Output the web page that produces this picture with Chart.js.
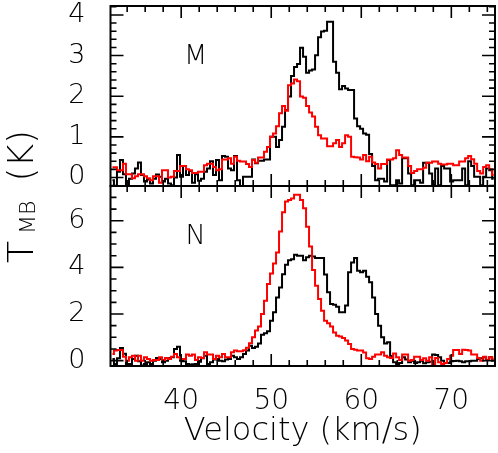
<!DOCTYPE html>
<html>
<head>
<meta charset="utf-8">
<script src="https://cdn.jsdelivr.net/npm/chart.js@4.4.1/dist/chart.umd.min.js"></script>
<style>
  html, body { margin: 0; padding: 0; background: #fff; }
  #wrap { width: 498px; height: 453px; }
</style>
</head>
<body>
<div id="wrap"><canvas id="myChart" width="498" height="453"></canvas></div>
<script>
// channel grid (km/s)
const V0 = 32.2;
const DV = 1 / 3;
const X_MIN = 32.15;
const X_MAX = 74.85;
const X_TICKS = [40, 50, 60, 70];
const M_TICKS = [0, 1, 2, 3, 4];
const N_TICKS = [0, 2, 4, 6];

// panel M
const M_BLACK = [
  -0.07, -0.3, 0.14, 0.43, 0.08, -0.3, -0.03, 0.1, 0.22, 0.37,
  0.06, -0.1, -0.05, -0.15, -0.03, 0.07, 0.02, -0.1, -0.03, -0.15,
  -0.19, 0.0, 0.55, 0.02, 0.28, 0.06, 0.16, -0.13, 0.08, -0.08,
  -0.03, 0.14, 0.22, 0.4, 0.06, 0.43, -0.07, 0.53, 0.51, 0.22,
  0.18, 0.53, -0.07, -0.3, 0.02, 0.02, 0.02, 0.44, 0.35, 0.41,
  0.41, 0.44, 0.44, 1.0, 1.0, 0.75, 0.92, 1.25, 1.66, 1.99,
  2.5, 2.72, 2.79, 3.19, 2.97, 2.58, 2.63, 2.66, 3.01, 3.45,
  3.59, 3.61, 3.83, 3.83, 2.85, 2.58, 2.17, 2.25, 2.19, 2.15,
  2.15, 1.45, 1.26, 1.2, 1.08, 1.05, 0.58, 0.28, -0.07, -0.03,
  -0.03, -0.1, 0.43, -0.19, -0.19, -0.07, -0.15, 0.47, 0.47, 0.1,
  -0.19, -0.07, -0.07, -0.13, 0.36, 0.36, 0.1, -0.19, 0.22, -0.19,
  0.28, 0.22, 0.22, -0.1, -0.07, -0.07, -0.07, 0.22, -0.19, 0.4,
  0.28, 0.02, 0.02, -0.19, 0.02, 0.22, 0.18, -0.03
];
const M_RED = [
  0.25, 0.25, 0.18, 0.18, 0.34, 0.08, 0.08, -0.02, 0.03, 0.08,
  0.08, 0.03, -0.02, -0.07, 0.03, 0.03, -0.13, 0.18, 0.18, 0.0,
  0.02, 0.16, 0.16, 0.28, 0.28, 0.2, 0.18, 0.11, 0.11, 0.14,
  0.14, 0.3, 0.34, 0.34, 0.26, 0.18, 0.2, 0.44, 0.44, 0.47,
  0.34, 0.51, 0.41, 0.39, 0.39, 0.33, 0.26, 0.43, 0.36, 0.49,
  0.49, 0.63, 0.75, 1.0, 1.08, 1.26, 1.58, 1.76, 1.64, 2.27,
  2.31, 2.41, 2.37, 1.99, 1.96, 1.76, 1.6, 1.5, 1.25, 1.04,
  0.96, 0.96, 0.77, 0.77, 0.84, 0.92, 0.75, 0.84, 1.04, 1.0,
  0.51, 0.5, 0.49, 0.44, 0.55, 0.4, 0.51, 0.37, 0.33, 0.22,
  0.33, 0.33, 0.44, 0.44, 0.47, 0.67, 0.55, 0.49, 0.49, 0.28,
  0.11, 0.16, 0.2, 0.2, 0.24, 0.36, 0.36, 0.39, 0.39, 0.34,
  0.32, 0.32, 0.34, 0.34, 0.3, 0.3, 0.39, 0.39, 0.47, 0.53,
  0.45, 0.34, 0.16, 0.1, 0.26, 0.3, 0.2, 0.06
];

// panel N
const N_BLACK = [
  0.07, -0.14, 0.1, 0.54, 0.3, -0.14, -0.14, 0.07, 0.21, -0.03,
  -0.21, -0.14, -0.07, -0.14, 0.0, 0.11, 0.07, -0.07, 0.0, 0.11,
  0.14, 0.5, 0.6, 0.0, -0.03, -0.14, -0.17, -0.15, -0.14, -0.05,
  0.1, 0.21, -0.14, -0.07, 0.05, 0.07, 0.0, -0.03, 0.05, 0.07,
  0.21, 0.14, 0.07, 0.15, 0.29, 0.43, 0.64, 0.54, 0.6, 0.74,
  1.11, 1.17, 1.26, 1.71, 2.07, 2.71, 3.14, 3.7, 4.11, 4.31,
  4.35, 4.54, 4.5, 4.5, 4.31, 4.43, 4.5, 4.47, 4.4, 4.4,
  4.4, 3.69, 2.93, 2.43, 2.4, 2.31, 2.07, 2.07, 2.36, 3.79,
  4.21, 4.4, 3.86, 3.79, 3.86, 3.6, 3.36, 2.71, 2.0, 1.5,
  1.0, 0.74, 0.79, 0.2, -0.07, -0.14, -0.1, 0.14, 0.05, -0.07,
  0.0, -0.1, -0.07, 0.0, -0.11, -0.07, -0.05, 0.26, 0.24, 0.14,
  0.0, -0.1, -0.1, -0.03, -0.02, 0.0, -0.03, -0.07, -0.03, -0.03,
  0.0, 0.0, 0.07, 0.1, 0.14, 0.03, 0.14, 0.0
];
const N_RED = [
  0.29, 0.43, 0.46, 0.46, 0.17, 0.0, 0.14, 0.21, 0.0, 0.21,
  0.0, 0.14, 0.07, 0.0, 0.03, 0.03, 0.14, 0.03, 0.11, 0.07,
  0.17, 0.29, 0.14, 0.07, 0.07, 0.26, 0.21, 0.26, 0.03, 0.14,
  0.11, 0.36, 0.26, 0.26, 0.07, 0.21, 0.14, 0.29, 0.14, 0.14,
  0.36, 0.43, 0.4, 0.4, 0.45, 0.55, 0.75, 1.0, 1.29, 1.46,
  2.0, 2.57, 3.29, 3.74, 4.17, 4.64, 5.54, 6.36, 6.83, 6.89,
  6.95, 7.11, 7.11, 6.89, 6.54, 5.74, 4.89, 3.89, 3.21, 2.64,
  2.14, 1.71, 1.6, 1.46, 1.21, 1.07, 1.03, 0.97, 0.86, 0.71,
  0.5, 0.47, 0.43, 0.43, 0.35, 0.1, 0.07, 0.17, 0.26, 0.26,
  0.36, 0.21, 0.14, 0.11, 0.31, 0.14, 0.03, 0.26, 0.26, 0.0,
  0.03, 0.17, 0.17, 0.03, 0.1, 0.0, 0.14, -0.14, 0.11, -0.07,
  -0.14, -0.1, 0.07, 0.21, 0.46, 0.46, 0.29, 0.47, 0.46, 0.44,
  0.26, 0.26, 0.11, 0.0, 0.17, 0.03, 0.14, 0.07
];

const velocity = [];
for (let i = 0; i < M_BLACK.length; ++i) {
    velocity.push(V0 + (i + 0.5) * DV); // channel centres
}
const toXY = (vals) => vals.map((y, i) => ({ x: velocity[i], y: y }));

const FONT = "'DejaVu Sans', sans-serif";
const WEIGHT = '300'; // thin strokes like the original plot font

// panel frames, inward ticks, labels
const PANELS = [
    { axis: 'yM', label: 'M', labelAt: [41.6, 2.96], major: 1, minor: 0.2 },
    { axis: 'yN', label: 'N', labelAt: [41.6, 5.32], major: 2, minor: 0.5 },
];

const panelPlugin = {
    id: 'panels',
    beforeDatasetDraw(chart, args) {
        const ys = chart.scales[args.meta.yAxisID];
        const a = chart.chartArea;
        const ctx = chart.ctx;
        ctx.save();
        ctx.beginPath();
        ctx.rect(a.left, ys.top, a.right - a.left, ys.bottom - ys.top);
        ctx.clip();
    },
    afterDatasetDraw(chart) {
        chart.ctx.restore();
    },
    afterDraw(chart) {
        const ctx = chart.ctx;
        const a = chart.chartArea;
        const xs = chart.scales.x;
        ctx.save();
        ctx.strokeStyle = '#000';
        ctx.fillStyle = '#000';
        PANELS.forEach(p => {
            const ys = chart.scales[p.axis];
            const top = ys.top, bot = ys.bottom;

            ctx.lineWidth = 1.6;
            ctx.beginPath();
            for (let v = Math.ceil(xs.min / 2) * 2; v <= xs.max; v += 2) {
                const px = xs.getPixelForValue(v);
                const len = v % 10 === 0 ? 12 : 6;
                ctx.moveTo(px, top); ctx.lineTo(px, top + len);
                ctx.moveTo(px, bot); ctx.lineTo(px, bot - len);
            }
            const n0 = Math.ceil(ys.min / p.minor);
            for (let k = n0; k * p.minor <= ys.max; ++k) {
                const t = k * p.minor;
                const py = ys.getPixelForValue(t);
                const isMajor = Math.abs(t / p.major - Math.round(t / p.major)) < 1e-6;
                const len = isMajor ? 13 : 6;
                ctx.moveTo(a.left, py); ctx.lineTo(a.left + len, py);
                ctx.moveTo(a.right, py); ctx.lineTo(a.right - len, py);
            }
            ctx.stroke();

            ctx.lineWidth = 2;
            ctx.strokeRect(a.left, top, a.right - a.left, bot - top);

            ctx.font = WEIGHT + ' 27px ' + FONT;
            ctx.textAlign = 'center';
            ctx.textBaseline = 'middle';
            ctx.fillText(p.label, xs.getPixelForValue(p.labelAt[0]), ys.getPixelForValue(p.labelAt[1]));
        });

        // y title: T_MB (K), rotated
        ctx.translate(33, 263);
        ctx.rotate(-Math.PI / 2);
        ctx.textAlign = 'left';
        ctx.textBaseline = 'alphabetic';
        let x = 0;
        ctx.font = WEIGHT + ' 36px ' + FONT;
        ctx.fillText('T', x, 0);
        x += ctx.measureText('T').width + 7;
        ctx.font = WEIGHT + ' 22px ' + FONT;
        ctx.fillText('MB', x, 2);
        x += ctx.measureText('MB').width + 19;
        ctx.font = WEIGHT + ' 36px ' + FONT;
        ctx.fillText('(K)', x, 0);
        ctx.restore();
    }
};

const yAxis = (ticks, min, max) => ({
    type: 'linear',
    position: 'left',
    stack: 'panels',
    stackWeight: 1,
    min: min,
    max: max,
    grid: { display: false },
    border: { display: false },
    afterBuildTicks: s => { s.ticks = ticks.map(v => ({ value: v })); },
    afterFit: s => { s.width = 110.5; s.paddingTop = 0; s.paddingBottom = 0; },
    ticks: {
        color: '#000',
        padding: 17,
        autoSkip: false,
        font: { family: FONT, size: 27, weight: WEIGHT },
    },
});

const config = {
    type: 'line',
    data: {
        datasets: [
            { data: toXY(M_RED), yAxisID: 'yM', borderColor: '#ff0000' },
            { data: toXY(M_BLACK), yAxisID: 'yM', borderColor: '#000000' },
            { data: toXY(N_RED), yAxisID: 'yN', borderColor: '#ff0000' },
            { data: toXY(N_BLACK), yAxisID: 'yN', borderColor: '#000000' },
        ],
    },
    options: {
        responsive: false,
        animation: false,
        events: [],
        layout: { padding: { left: 0, top: 6, right: 3, bottom: 0 } },
        plugins: { legend: { display: false }, tooltip: { enabled: false } },
        elements: {
            point: { radius: 0 },
            line: { borderWidth: 2, stepped: 'middle', fill: false, tension: 0 },
        },
        scales: {
            x: {
                type: 'linear',
                min: X_MIN,
                max: X_MAX,
                grid: { display: false },
                border: { display: false },
                afterBuildTicks: s => { s.ticks = X_TICKS.map(v => ({ value: v })); },
                afterFit: s => { s.height = 87; s.paddingLeft = 0; s.paddingRight = 0; },
                ticks: {
                    color: '#000',
                    padding: 11,
                    maxRotation: 0,
                    autoSkip: false,
                    font: { family: FONT, size: 28, weight: WEIGHT },
                },
                title: {
                    display: true,
                    text: 'Velocity (km/s)',
                    color: '#000',
                    padding: { top: 0, bottom: 2 },
                    font: { family: FONT, size: 32, weight: WEIGHT },
                },
            },
            yN: yAxis(N_TICKS, -0.23, 7.49),
            yM: yAxis(M_TICKS, -0.21, 4.22),
        },
    },
    plugins: [panelPlugin],
};

const myChart = new Chart(document.getElementById('myChart'), config);
</script>
</body>
</html>
